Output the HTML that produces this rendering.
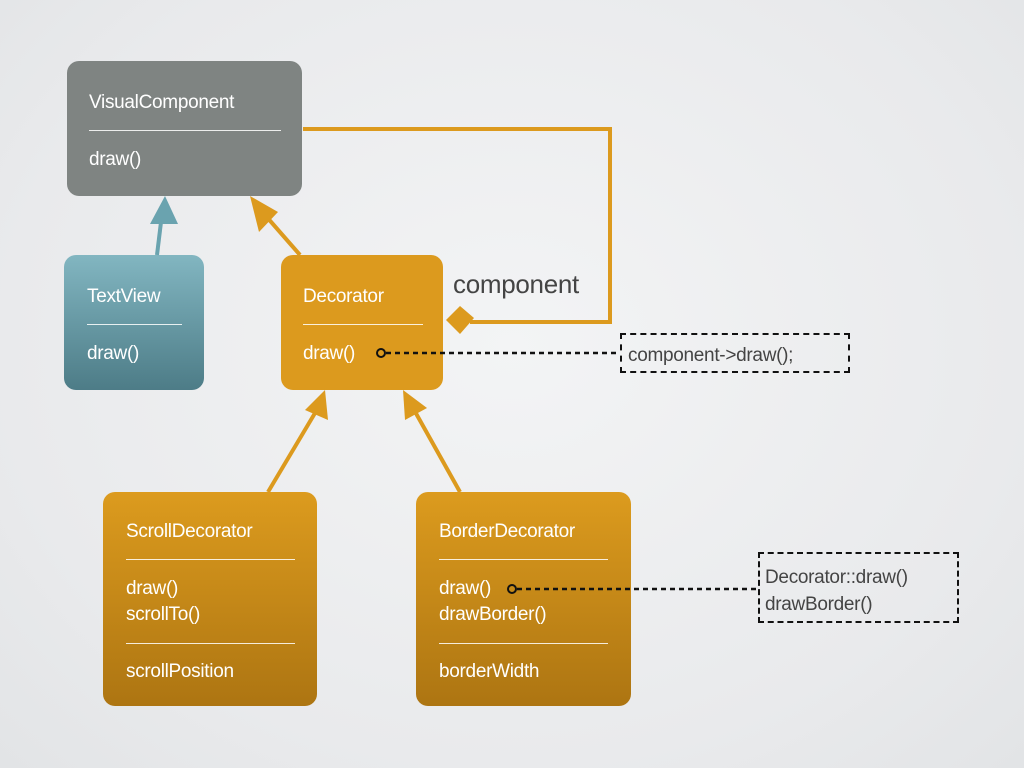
<!DOCTYPE html>
<html><head><meta charset="utf-8"><style>
body{margin:0;width:1024px;height:768px;overflow:hidden;background:radial-gradient(ellipse at 50% 45%,#f3f4f5 0%,#e9eaec 70%,#e2e4e6 100%);font-family:"Liberation Sans",sans-serif;position:relative}
.b{position:absolute;border-radius:12px;color:#fff}
.t{position:absolute;font-size:19px;white-space:nowrap;letter-spacing:-0.3px}
.l{position:absolute;height:1px;background:rgba(255,255,255,.85)}
.n{position:absolute;border:2px dashed #111;box-sizing:border-box;color:#444;font-size:19px;letter-spacing:-0.3px}
</style></head><body>
<div class="b" style="left:67px;top:61px;width:235px;height:135px;background:#7f8482"></div>
<div class="b" style="left:64px;top:255px;width:140px;height:135px;background:linear-gradient(#82b6c1,#4d7c87)"></div>
<div class="b" style="left:281px;top:255px;width:162px;height:135px;background:#dc9a1e"></div>
<div class="b" style="left:103px;top:492px;width:214px;height:214px;background:linear-gradient(#dc9b1e,#ad7512)"></div>
<div class="b" style="left:416px;top:492px;width:215px;height:214px;background:linear-gradient(#dc9b1e,#ad7512)"></div>

<div class="t" style="left:89px;top:92px;color:#fff">VisualComponent</div>
<div class="l" style="left:89px;top:130px;width:192px"></div>
<div class="t" style="left:89px;top:149px;color:#fff">draw()</div>

<div class="t" style="left:87px;top:286px;color:#fff">TextView</div>
<div class="l" style="left:87px;top:324px;width:95px"></div>
<div class="t" style="left:87px;top:343px;color:#fff">draw()</div>

<div class="t" style="left:303px;top:286px;color:#fff">Decorator</div>
<div class="l" style="left:303px;top:324px;width:120px"></div>
<div class="t" style="left:303px;top:343px;color:#fff">draw()</div>

<div class="t" style="left:126px;top:521px;color:#fff">ScrollDecorator</div>
<div class="l" style="left:126px;top:559px;width:169px"></div>
<div class="t" style="left:126px;top:578px;color:#fff">draw()</div>
<div class="t" style="left:126px;top:604px;color:#fff">scrollTo()</div>
<div class="l" style="left:126px;top:643px;width:169px"></div>
<div class="t" style="left:126px;top:661px;color:#fff">scrollPosition</div>

<div class="t" style="left:439px;top:521px;color:#fff">BorderDecorator</div>
<div class="l" style="left:439px;top:559px;width:169px"></div>
<div class="t" style="left:439px;top:578px;color:#fff">draw()</div>
<div class="t" style="left:439px;top:604px;color:#fff">drawBorder()</div>
<div class="l" style="left:439px;top:643px;width:169px"></div>
<div class="t" style="left:439px;top:661px;color:#fff">borderWidth</div>

<div class="t" style="left:453px;top:269px;font-size:26px;color:#444">component</div>

<div class="n" style="left:620px;top:333px;width:230px;height:40px;padding:10px 0 0 6px">component-&gt;draw();</div>
<div class="n" style="left:758px;top:552px;width:201px;height:71px;padding:10px 0 0 5px;line-height:27px">Decorator::draw()<br>drawBorder()</div>

<svg width="1024" height="768" style="position:absolute;left:0;top:0">
<g stroke="#dc9a1e" fill="none" stroke-width="4">
<polyline points="303,129 610,129 610,322 470,322"/>
<line x1="300" y1="255" x2="265" y2="215"/>
<line x1="268" y1="492" x2="318" y2="408"/>
<line x1="460" y1="492" x2="413" y2="408"/>
</g>
<g fill="#dc9a1e">
<polygon points="250,196 278,212 259,232"/>
<polygon points="446,320 460,306 474,318 460,334"/>
<polygon points="325,390 328,420 305,410"/>
<polygon points="403,390 427,408 405,420"/>
</g>
<line x1="157" y1="255" x2="161" y2="222" stroke="#6aa3af" stroke-width="4"/>
<polygon points="165,196 178,224 150,224" fill="#6aa3af"/>
<g stroke="#111" stroke-width="2.5" stroke-dasharray="5,4" fill="none">
<line x1="386" y1="353" x2="620" y2="353"/>
<line x1="517" y1="589" x2="758" y2="589"/>
</g>
<circle cx="381" cy="353" r="4" fill="none" stroke="#111" stroke-width="2"/>
<circle cx="512" cy="589" r="4" fill="none" stroke="#111" stroke-width="2"/>
</svg>
</body></html>
